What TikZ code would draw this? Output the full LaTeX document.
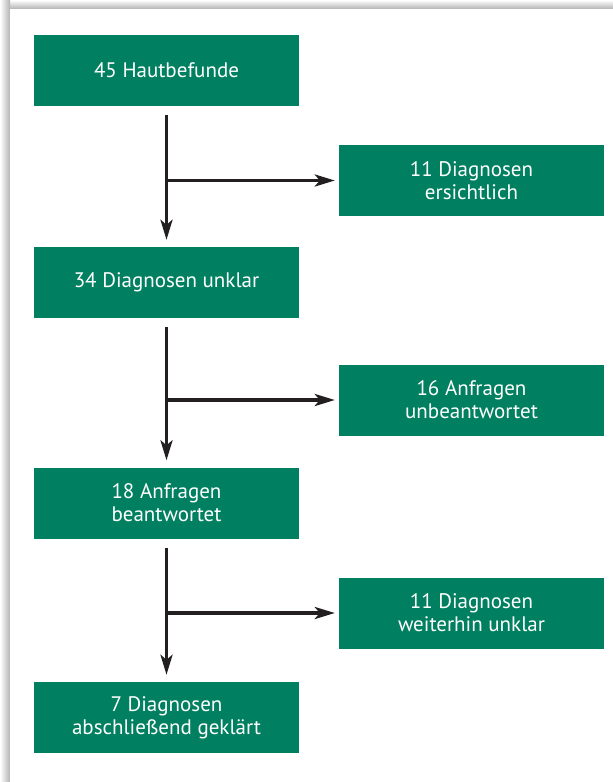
\documentclass[tikz,border=0pt]{standalone}
\usepackage{fontspec}
\setmainfont{PT Sans}
\usetikzlibrary{arrows.meta}
\definecolor{boxgreen}{RGB}{0,128,96}
\definecolor{arrowblack}{RGB}{35,31,32}
\newcommand{\widthbox}{265pt}
\newcommand{\heightbox}{71pt}
\tikzset{
    box/.style={rectangle, fill=boxgreen, text=white, inner sep=0pt,
        minimum width=\widthbox, minimum height=\heightbox, align=center,
        font=\fontsize{21}{23}\selectfont},
    flow/.style={-{Stealth[length=20pt, width=12pt, inset=5pt]},
        line width=3.4pt, arrowblack},
}

\begin{document}
\begin{tikzpicture}[x=1pt, y=-1pt]
    \useasboundingbox (0,0) rectangle (613,782);
    % panel with its shadow
    \fill[white] (0,0) rectangle (613,782);
    \shade[top color=white, bottom color=black!30] (0,0) rectangle (613,9);
    \shade[left color=white, right color=black!30] (0,0) rectangle (10,782);
    \fill[white] (10,9) rectangle (613,782);

    \node[box] (hb) at (166.5,70.5) {45 Hautbefunde};
    \node[box] (er) at (471.5,180.5) {11 Diagnosen\\ersichtlich};
    \node[box] (du) at (166.5,282.5) {34 Diagnosen unklar};
    \node[box] (ub) at (471.5,400) {16 Anfragen\\unbeantwortet};
    \node[box] (ab) at (166.5,503) {18 Anfragen\\beantwortet};
    \node[box] (wu) at (471.5,613) {11 Diagnosen\\weiterhin unklar};
    \node[box] (gk) at (166.5,717.5) {7 Diagnosen\\abschlie\ss end gekl\"art};

    \draw[flow, shorten <=9pt, shorten >=7pt] (hb) -- (du);
    \draw[flow, shorten >=4pt] (hb.south |- er) -- (er.west);
    \draw[flow, shorten <=9pt, shorten >=7pt] (du) -- (ab);
    \draw[flow, shorten >=4pt] (du.south |- ub) -- (ub.west);
    \draw[flow, shorten <=9pt, shorten >=7pt] (ab) -- (gk);
    \draw[flow, shorten >=4pt] (ab.south |- wu) -- (wu.west);
\end{tikzpicture}
\end{document}
